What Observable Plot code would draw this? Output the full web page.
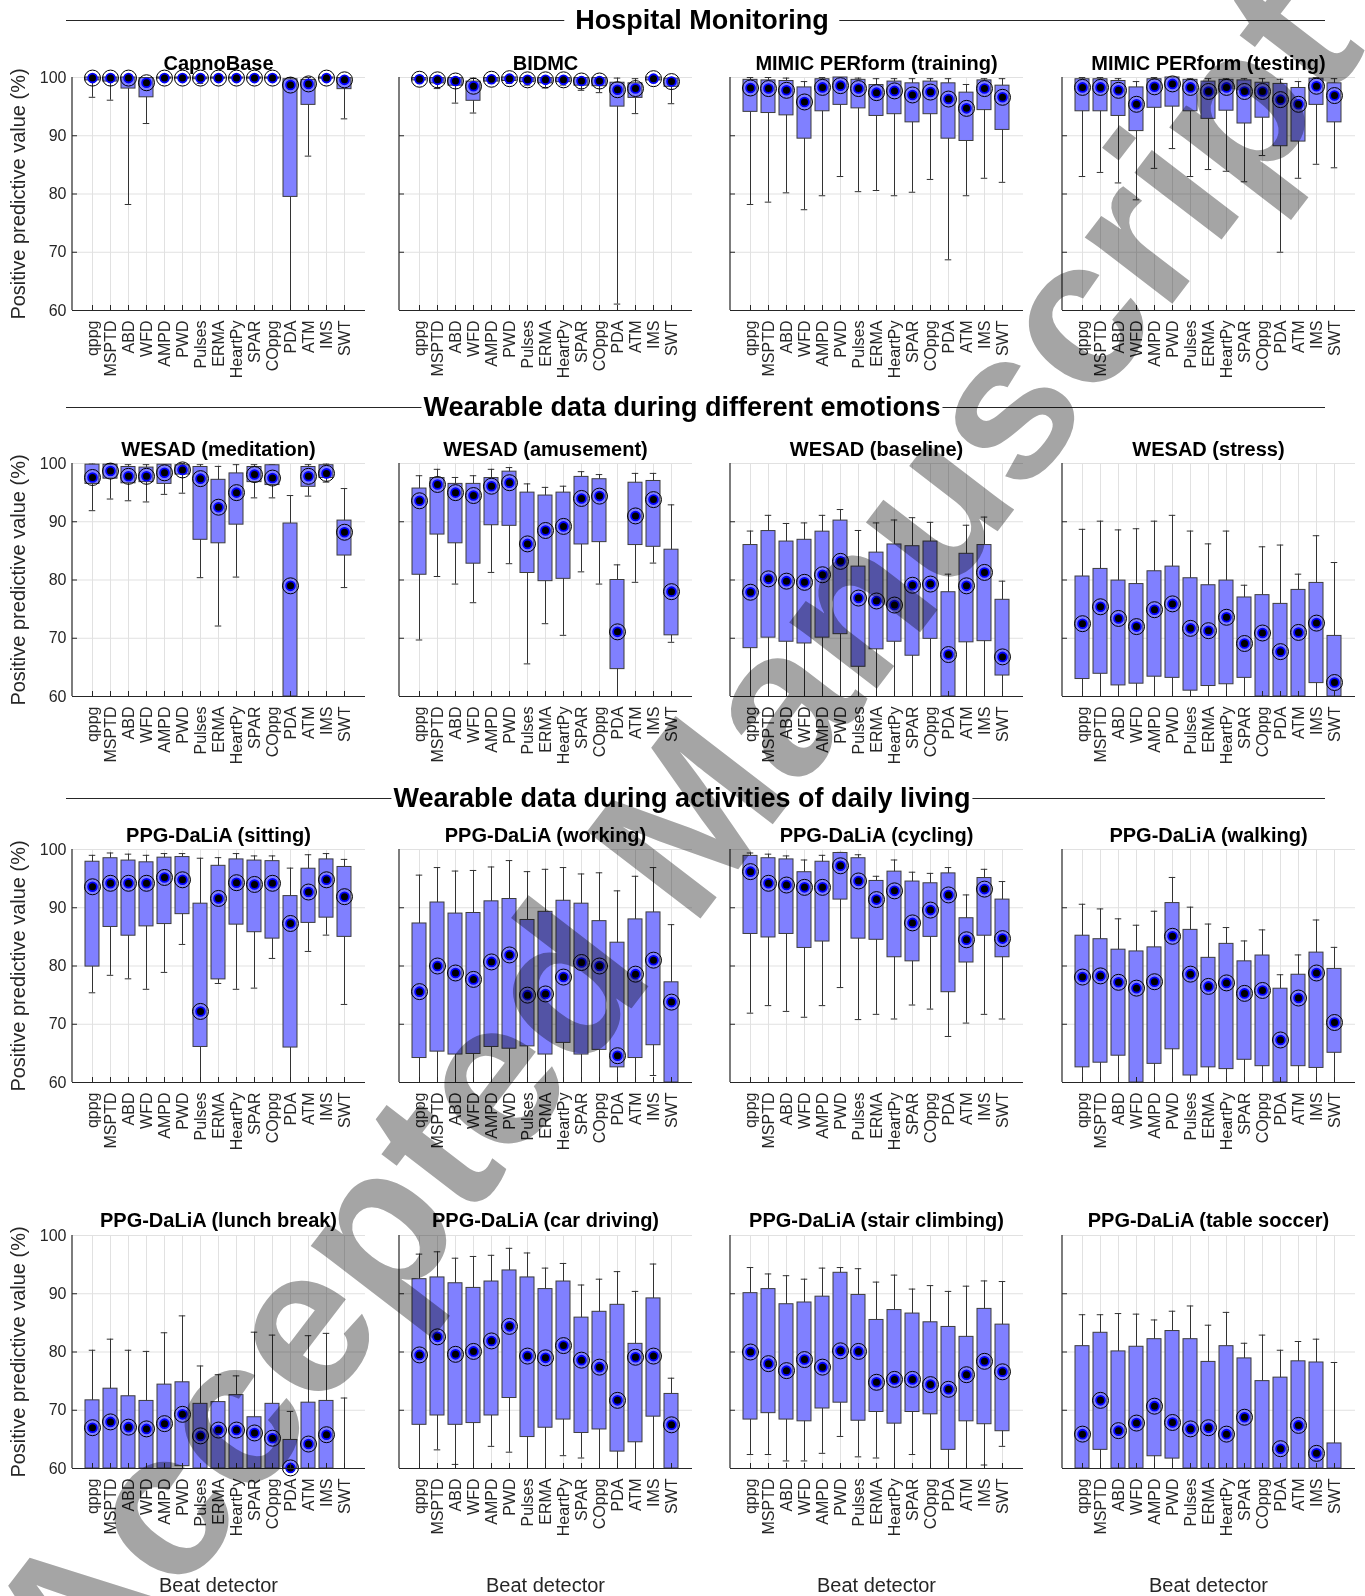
<!DOCTYPE html>
<html>
<head>
<meta charset="utf-8">
<script src="https://cdn.jsdelivr.net/npm/d3@7"></script>
<script src="https://cdn.jsdelivr.net/npm/@observablehq/plot@0.6"></script>
<style>
  html, body { margin: 0; padding: 0; background: #fff; }
  #fig { position: relative; width: 1365px; height: 1596px; overflow: hidden; background: #fff;
         font-family: "Liberation Sans", Arial, Helvetica, sans-serif; color: #000; }
  .abs { position: absolute; white-space: nowrap; }
  .ptitle { font-weight: bold; font-size: 20px; transform: translate(-50%, -50%); }
  .stitle { font-weight: bold; font-size: 27px; transform: translate(-50%, -50%); background: #fff; }
  .sline { height: 0; border-top: 1.4px solid #262626; }
  .ylab { font-size: 20px; color: #262626; transform: translate(-50%, -50%) rotate(-90deg); }
  .xlab { font-size: 20px; color: #262626; transform: translate(-50%, -50%); }
  .wm { font-size: 208px; font-weight: bold; color: #a5a5a5; mix-blend-mode: multiply; line-height: 1; pointer-events: none; }
</style>
</head>
<body>
<div id="fig"></div>
<script>
// ---------------- data ----------------
const detectors = ["qppg","MSPTD","ABD","WFD","AMPD","PWD","Pulses","ERMA","HeartPy","SPAR","COppg","PDA","ATM","IMS","SWT"];
const yTicks = [60, 70, 80, 90, 100];
const sectionTitles = ["Hospital Monitoring", "Wearable data during different emotions", "Wearable data during activities of daily living"];
const panelTitles = [
  "CapnoBase", "BIDMC", "MIMIC PERform (training)", "MIMIC PERform (testing)",
  "WESAD (meditation)", "WESAD (amusement)", "WESAD (baseline)", "WESAD (stress)",
  "PPG-DaLiA (sitting)", "PPG-DaLiA (working)", "PPG-DaLiA (cycling)", "PPG-DaLiA (walking)",
  "PPG-DaLiA (lunch break)", "PPG-DaLiA (car driving)", "PPG-DaLiA (stair climbing)", "PPG-DaLiA (table soccer)"
];
const yLabel = "Positive predictive value (%)";
const xLabel = "Beat detector";
const watermark = "Accepted Manuscript";

// each row: [lower whisker, Q1, median, Q3, upper whisker]  (values below 60 lie outside the axis)
const capnoBase = [[96.6,99.5,99.9,100,100],[96.1,99.3,99.9,100,100],[78.2,98.1,99.9,100,100],[92.1,96.6,99.1,99.9,100],[99.5,99.8,99.9,100,100],[99.5,99.8,99.9,100,100],[99.0,99.7,99.9,100,100],[99.6,99.8,99.9,100,100],[99.6,99.8,99.9,100,100],[99.6,99.8,99.9,100,100],[99.6,99.8,99.9,100,100],[50,79.5,98.7,99.7,100],[86.5,95.3,98.9,99.6,100],[99.7,99.8,99.9,100,100],[92.9,98.0,99.6,99.9,100]];
const bidmc = [[99.3,99.5,99.7,99.9,100],[98.1,99.0,99.6,99.9,100],[95.6,98.6,99.4,99.9,100],[93.9,96.0,98.5,99.3,99.9],[99.0,99.3,99.7,99.9,100],[99.0,99.4,99.8,100,100],[98.7,99.2,99.6,99.9,100],[98.2,99.0,99.6,99.9,100],[98.7,99.2,99.6,99.9,100],[97.8,98.6,99.4,99.9,100],[97.4,98.5,99.4,99.9,100],[61.1,95.0,97.9,99.1,99.9],[93.8,96.5,98.1,99.0,99.8],[99.3,99.5,99.8,100,100],[95.5,98.4,99.3,99.8,100]];
const mimicTrain = [[78.2,94.1,98.2,99.6,100],[78.6,93.9,98.1,99.5,100],[80.2,93.5,97.8,99.4,99.9],[77.3,89.5,95.8,98.3,99.3],[79.7,94.2,98.3,99.7,100],[83.0,95.3,98.6,100,100],[80.4,94.7,98.1,99.6,99.9],[80.6,93.4,97.4,98.7,99.8],[79.7,93.7,97.7,99.3,99.8],[80.3,92.3,97.0,99.0,99.8],[82.5,93.7,97.5,99.3,99.8],[68.7,89.5,96.3,99.0,99.8],[79.7,89.1,94.7,97.4,98.8],[82.7,94.4,98.1,99.5,99.8],[82.0,91.0,96.6,98.6,99.8]];
const mimicTest = [[83.0,94.2,98.3,99.7,100],[83.7,94.2,98.3,99.7,100],[81.9,93.4,97.8,99.4,99.8],[79.0,90.8,95.4,98.3,99.3],[84.4,94.8,98.4,99.7,100],[87.8,95.0,98.9,100,100],[83.0,94.2,98.3,99.6,99.8],[84.2,92.9,97.6,99.3,99.8],[83.9,94.3,98.3,99.6,99.8],[82.1,92.1,97.6,99.5,99.8],[86.6,93.1,97.6,99.1,99.8],[70.0,88.2,96.2,98.9,99.7],[82.7,89.0,95.4,98.2,99.3],[85.1,95.3,98.5,99.8,100],[84.5,92.3,96.9,99.0,99.8]];
const wesadMeditation = [[91.9,96.5,97.6,99.8,99.9],[93.9,97.4,98.7,99.8,100],[93.6,96.6,97.8,99.4,99.8],[93.4,96.8,97.8,99.3,99.8],[94.7,96.5,98.4,99.8,99.8],[94.9,98.1,98.9,99.7,100],[80.4,86.9,97.4,99.4,99.8],[72.1,86.3,92.5,97.2,99.5],[80.5,89.5,95.0,98.3,99.8],[94.1,96.8,98.1,99.4,99.8],[94.1,96.3,97.5,99.7,99.8],[50,55,79.0,89.7,94.5],[94.4,96.0,97.8,99.4,99.8],[96.8,97.5,98.3,99.7,99.9],[78.7,84.2,88.2,90.2,95.7]];
const wesadAmusement = [[69.7,80.9,93.6,95.7,97.9],[80.6,87.8,96.4,97.5,99.0],[79.3,86.3,95.0,96.5,97.6],[76.1,82.8,94.5,96.5,97.9],[81.3,89.4,96.1,97.5,99.0],[82.8,89.3,96.7,98.6,99.3],[65.6,81.2,86.2,95.0,96.5],[72.5,79.8,88.5,94.5,95.9],[70.5,80.2,89.2,95.0,96.1],[81.4,86.1,94.0,97.7,98.6],[79.3,86.5,94.4,97.3,98.1],[50,64.7,71.1,80.0,82.6],[79.6,86.0,91.0,96.7,98.3],[82.9,85.7,93.8,97.0,98.3],[69.3,70.5,78.0,85.2,92.9]];
const wesadBaseline = [[50,68.3,77.9,86.0,88.4],[50,70.1,80.2,88.4,91.1],[50,69.4,79.8,86.6,89.7],[50,69.1,79.6,86.9,89.8],[50,70.1,80.9,88.3,91.1],[50,70.7,83.2,90.2,92.1],[50,65.1,76.9,82.3,88.5],[50,68.1,76.4,84.7,89.8],[50,69.4,75.7,86.1,90.3],[50,67.0,79.1,85.8,90.7],[50,69.9,79.3,86.6,89.9],[50,55,67.2,77.9,81.0],[50,69.3,79.0,84.5,89.4],[50,69.5,81.3,86.0,90.8],[50,63.6,66.8,76.6,79.8]];
const wesadStress = [[50,63.0,72.5,80.6,88.7],[50,63.9,75.4,81.9,90.1],[50,61.9,73.4,79.9,88.6],[50,62.2,72.0,79.3,88.8],[50,63.4,74.9,81.5,90.1],[50,63.2,75.9,82.3,91.1],[50,61.0,71.7,80.3,88.4],[50,61.8,71.3,79.1,86.2],[50,62.1,73.6,79.9,88.4],[50,63.2,69.1,77.0,79.1],[50,55,70.9,77.4,85.7],[50,55,67.7,75.9,86.0],[50,55,71.0,78.3,81.0],[50,62.3,72.6,79.5,87.6],[50,55,62.4,70.4,83.0]];
const daliaSitting = [[75.4,79.9,93.6,97.9,99.0],[78.4,86.7,94.2,98.5,99.4],[77.8,85.2,94.2,98.1,99.2],[76.0,86.8,94.2,97.8,99.0],[78.9,87.2,95.2,98.6,99.3],[83.7,88.9,94.8,98.7,99.3],[50,66.1,72.2,90.7,98.5],[77.0,77.7,91.6,97.2,98.6],[76.0,87.1,94.3,98.3,99.3],[76.2,85.8,94.0,98.1,98.9],[81.3,84.7,94.2,98.0,98.9],[50,66.0,87.3,92.0,96.8],[82.5,87.4,92.7,96.7,99.1],[85.3,88.3,94.8,98.3,99.3],[73.4,85.0,91.9,97.0,98.3]];
const daliaWorking = [[50,64.2,75.6,87.3,95.6],[50,65.3,80.0,90.9,96.9],[50,64.8,78.8,89.0,96.3],[50,64.9,77.7,89.1,96.4],[50,66.1,80.7,91.1,97.0],[50,65.8,81.9,91.5,98.1],[50,66.2,75.0,87.9,96.2],[50,64.8,75.2,89.3,96.6],[50,66.8,78.1,91.2,96.9],[50,64.8,80.6,90.7,95.8],[50,65.6,80.0,87.7,96.0],[50,62.6,64.6,84.0,92.9],[50,64.2,78.6,88.0,95.4],[61.2,66.4,81.0,89.2,96.9],[50,55,73.8,77.2,87.1]];
const daliaCycling = [[71.9,85.5,96.2,98.9,99.4],[73.2,84.9,94.2,98.5,99.2],[72.2,85.5,93.9,98.3,98.9],[71.2,83.1,93.5,96.1,98.2],[73.2,84.2,93.5,97.9,99.0],[76.3,91.4,97.2,99.4,99.5],[70.8,84.7,94.6,98.5,99.1],[71.7,84.5,91.4,94.6,95.4],[70.9,81.5,92.9,96.2,98.2],[73.3,80.8,87.4,94.5,96.1],[72.6,85.0,89.6,94.2,95.9],[67.9,75.5,92.2,95.9,96.9],[70.2,80.6,84.5,88.2,92.2],[71.7,85.2,93.2,95.1,96.6],[70.9,81.5,84.7,91.4,94.5]];
const daliaWalking = [[50,62.6,78.1,85.2,90.6],[50,63.4,78.3,84.6,89.8],[50,64.6,77.2,82.8,88.1],[50,55,76.2,82.5,87.0],[50,63.2,77.3,83.2,89.4],[50,65.7,85.1,90.8,95.2],[50,61.2,78.6,86.2,90.1],[50,62.6,76.5,81.4,87.2],[50,62.3,77.1,83.8,86.6],[50,63.9,75.3,80.8,84.3],[50,62.8,75.8,81.8,86.2],[50,55,67.3,76.1,78.5],[50,62.8,74.5,78.5,81.9],[50,62.5,78.8,82.3,87.9],[50,65.1,70.3,79.5,83.2]];
const daliaLunch = [[50,55,67.0,71.7,80.3],[50,55,68.0,73.7,82.2],[50,55,67.1,72.4,80.3],[50,55,66.8,71.6,80.1],[50,55,67.7,74.4,83.3],[50,60.4,69.3,74.8,86.2],[50,55,65.6,71.1,77.6],[50,55,66.6,71.4,76.1],[50,55,66.6,72.6,75.9],[50,55,66.1,68.8,83.4],[50,55,65.2,71.1,82.9],[50,55,60.1,64.9,69.8],[50,55,64.2,71.3,82.8],[50,55,65.8,71.6,83.2],[50,52,null,58,72.1]];
const daliaCar = [[50,67.5,79.5,92.5,96.8],[63.2,69.1,82.6,92.8,97.2],[60.7,67.5,79.6,91.8,96.1],[50,67.8,80.1,91.0,96.4],[63.8,69.1,81.9,92.1,96.6],[62.8,72.1,84.4,94.0,97.8],[50,65.4,79.3,92.8,97.0],[50,67.0,79.0,90.8,94.4],[62.2,68.4,81.1,92.1,95.2],[61.8,66.1,78.6,85.9,91.5],[50,66.7,77.4,86.9,92.5],[50,62.9,71.7,88.1,93.8],[50,64.5,79.1,81.4,90.4],[50,68.9,79.3,89.2,95.1],[50,55,67.5,72.8,75.5]];
const daliaStairs = [[62.4,68.4,80.0,90.1,94.5],[62.4,69.5,78.0,90.8,93.4],[61.3,68.4,76.8,88.2,93.1],[61.3,68.1,78.7,88.5,92.5],[62.6,70.3,77.4,89.5,94.4],[65.5,71.3,80.2,93.6,94.5],[62.0,68.2,80.1,89.8,94.3],[61.8,69.7,74.8,85.5,92.0],[50,67.7,75.3,87.2,93.2],[62.4,69.7,75.3,86.6,90.8],[50,69.3,74.4,85.1,91.4],[50,63.2,73.6,84.3,90.4],[50,68.1,76.1,82.6,91.3],[60.6,67.6,78.4,87.4,92.2],[63.8,66.4,76.6,84.7,92.1]];
const daliaSoccer = [[50,55,65.9,81.0,86.4],[50,63.2,71.7,83.3,86.4],[50,55,66.5,80.1,86.6],[50,55,67.8,80.9,86.5],[50,62.1,70.7,82.2,85.5],[50,61.7,67.9,83.6,87.0],[50,55,66.8,82.2,87.9],[50,55,67.0,78.3,84.6],[50,55,65.9,81.0,86.8],[50,55,68.8,78.9,81.5],[50,55,null,75.0,82.9],[50,55,63.4,75.6,80.3],[50,55,67.4,78.4,81.8],[50,55,62.6,78.2,82.2],[50,55,null,64.3,78.2]];

const panelData = [capnoBase, bidmc, mimicTrain, mimicTest,
  wesadMeditation, wesadAmusement, wesadBaseline, wesadStress,
  daliaSitting, daliaWorking, daliaCycling, daliaWalking,
  daliaLunch, daliaCar, daliaStairs, daliaSoccer];

// ---------------- layout ----------------
const FONT = '"Liberation Sans", Arial, Helvetica, sans-serif';
const colLeft = [72, 399, 730, 1062];
const rowTop = [77, 463, 849, 1235];
const W = 293, H = 233;
const mL = 60, mR = 14, mT = 16, mB = 90;
const panelTitleY = [63, 449, 835, 1220];
const sectionY = [20, 407, 798];
const sectionX = [702, 682, 682];
const sectionPad = ["0 11px", "0 2px", "0 2px"];
const lineLeft = 66, lineRight = 1325;
const xLabelY = 1585;
const yLabelX = 18;

const BOX = "#8080ff";
const INK = "#262626";
const GRID = "#e1e1e1";

const fig = document.getElementById("fig");
function addDiv(cls, text, left, top, extra) {
  const d = document.createElement("div");
  d.className = "abs " + cls;
  d.textContent = text;
  d.style.left = left + "px";
  d.style.top = top + "px";
  if (extra) Object.assign(d.style, extra);
  fig.appendChild(d);
  return d;
}

// section header lines + titles
sectionTitles.forEach((t, i) => {
  const l = addDiv("sline", "", lineLeft, sectionY[i]);
  l.style.width = (lineRight - lineLeft) + "px";
  addDiv("stitle", t, sectionX[i], sectionY[i], {padding: sectionPad[i]});
});

const step = W / (detectors.length - 0.2 + 0.86);
const capInset = step * 0.8 * 0.25;

panelData.forEach((rows, p) => {
  const col = p % 4, row = Math.floor(p / 4);
  const data = rows.map((v, i) => ({det: detectors[i], wl: v[0], q1: v[1], med: v[2], q3: v[3], wh: v[4]}));
  const marks = [
    Plot.gridX({stroke: GRID, strokeOpacity: 1}),
    Plot.gridY(yTicks, {stroke: GRID, strokeOpacity: 1}),
    Plot.ruleX(data, {x: "det", y1: "wl", y2: "wh", stroke: "#333", strokeWidth: 1}),
    Plot.tickY(data.filter(d => d.wl >= 60), {x: "det", y: "wl", stroke: "#333", insetLeft: capInset, insetRight: capInset}),
    Plot.tickY(data, {x: "det", y: "wh", stroke: "#333", insetLeft: capInset, insetRight: capInset}),
    Plot.barY(data, {x: "det", y1: "q1", y2: "q3", fill: BOX, stroke: "#3c3c3c", strokeWidth: 1}),
    Plot.dot(data, {x: "det", y: "med", r: 8, stroke: "#000", strokeWidth: 1, fill: "none"}),
    Plot.dot(data, {x: "det", y: "med", r: 4.4, fill: "#000", stroke: "#0000ff", strokeWidth: 1.8}),
    Plot.tickY(yTicks.slice(1, -1), {y: d => d, insetRight: W - 5, stroke: INK}),
    Plot.tickX(detectors, {x: d => d, insetTop: H - 5, stroke: INK}),
    Plot.ruleY([60], {stroke: INK, strokeWidth: 1.2}),
    Plot.axisX({tickSize: 0, tickRotate: -90, tickPadding: 10, fontSize: 16, fill: INK, label: null}),
  ];
  if (col === 0) marks.push(Plot.axisY(yTicks, {tickSize: 0, tickPadding: 6, fontSize: 16, fill: INK, label: null}));
  const svg = Plot.plot({
    width: mL + W + mR, height: mT + H + mB,
    marginLeft: mL, marginRight: mR, marginTop: mT, marginBottom: mB,
    style: {fontFamily: FONT, fontSize: "16px", background: "transparent", overflow: "visible", color: INK},
    x: {type: "band", domain: detectors, paddingInner: 0.2, paddingOuter: 0.43, align: 0.5, axis: null},
    y: {domain: [60, 100], clamp: true, axis: null},
    marks
  });
  // left axis line
  d3.select(svg).append("line")
    .attr("x1", mL).attr("x2", mL).attr("y1", mT).attr("y2", mT + H)
    .attr("stroke", INK).attr("stroke-width", 1.2);
  svg.style.position = "absolute";
  svg.style.left = (colLeft[col] - mL) + "px";
  svg.style.top = (rowTop[row] - mT) + "px";
  fig.appendChild(svg);

  addDiv("ptitle", panelTitles[p], colLeft[col] + W / 2, panelTitleY[row]);
  if (col === 0) addDiv("ylab", yLabel, yLabelX, rowTop[row] + H / 2);
  if (row === 3) addDiv("xlab", xLabel, colLeft[col] + W / 2, xLabelY);
});

// watermark
const wmCx = 670, wmCy = 840, wmAngle = -52.5;
const wm = addDiv("wm", watermark, wmCx, wmCy);
wm.style.transform = `translate(-50%, -50%) rotate(${wmAngle}deg)`;
</script>
</body>
</html>
